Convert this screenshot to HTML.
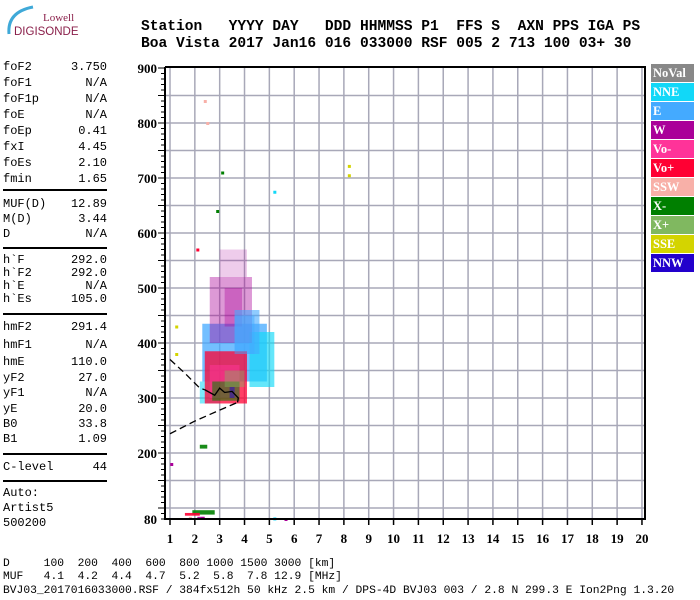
<!DOCTYPE html>
<html><head><meta charset="utf-8">
<style>
body{margin:0;background:#fff;width:700px;height:600px;overflow:hidden;position:relative;font-family:"Liberation Mono",monospace}
.hdr{position:absolute;left:141px;font:bold 14.6px "Liberation Mono",monospace;white-space:pre;color:#000}
.row{position:absolute;left:3px;width:104px;font:12px "Liberation Mono",monospace;height:12px;line-height:12px}
.row span{position:absolute;right:0}
.hr{position:absolute;left:3px;width:104px;border-top:2px solid #000}
.bot{position:absolute;left:3px;font:11.3px "Liberation Mono",monospace;white-space:pre}
.leg{position:absolute;left:651px;width:43px;height:18px;font:bold 12.5px "Liberation Serif",serif;color:#fff;line-height:18px;padding-left:2px;box-sizing:border-box}
</style></head><body>
<div style="position:absolute;left:3px;top:4px;width:80px;height:34px">
<svg width="80" height="34"><path d="M6 30 Q4 8 30 3" stroke="#3fa9d8" stroke-width="3" fill="none"/>
<text x="40" y="17" font-family="Liberation Serif" font-size="11" fill="#8a1f4a">Lowell</text>
<text x="11" y="31" font-family="Liberation Sans" font-size="11.5" fill="#8a1f4a">DIGISONDE</text></svg></div>
<div class="hdr" style="top:19px">Station   YYYY DAY   DDD HHMMSS P1  FFS S  AXN PPS IGA PS</div>
<div class="hdr" style="top:36px">Boa Vista 2017 Jan16 016 033000 RSF 005 2 713 100 03+ 30</div>
<div id="panel"></div>
<div class="bot" style="top:558px">D     100  200  400  600  800 1000 1500 3000 [km]</div>
<div class="bot" style="top:571px">MUF   4.1  4.2  4.4  4.7  5.2  5.8  7.8 12.9 [MHz]</div>
<div class="bot" style="top:585px">BVJ03_2017016033000.RSF / 384fx512h 50 kHz 2.5 km / DPS-4D BVJ03 003 / 2.8 N 299.3 E Ion2Png 1.3.20</div>
<div id="legend"></div>
<svg id="chart" width="700" height="600" style="position:absolute;left:0;top:0"></svg>
<script>
const rows=[["foF2","3.750",67],["foF1","N/A",83],["foF1p","N/A",99],["foE","N/A",115],["foEp","0.41",131],["fxI","4.45",147],["foEs","2.10",163],["fmin","1.65",179],
["MUF(D)","12.89",204],["M(D)","3.44",219],["D","N/A",234],["h`F","292.0",260],["h`F2","292.0",273],["h`E","N/A",286],["h`Es","105.0",299],
["hmF2","291.4",327],["hmF1","N/A",345],["hmE","110.0",362],["yF2","27.0",378],["yF1","N/A",393],["yE","20.0",409],["B0","33.8",424],["B1","1.09",439],["C-level","44",467],
["Auto:","",493],["Artist5","",508],["500200","",523]];
const hrs=[189,247,313,453,480];
const P=document.getElementById('panel');
rows.forEach(r=>{const d=document.createElement('div');d.className='row';d.style.top=(r[2]-6)+'px';


d.innerHTML=r[0]+'<span>'+r[1]+'</span>';P.appendChild(d);});
hrs.forEach(y=>{const d=document.createElement('div');d.className='hr';d.style.top=y+'px';


P.appendChild(d);});

const legNames=["NoVal","NNE","E","W","Vo-","Vo+","SSW","X-","X+","SSE","NNW"];
const legColors=["#888888","#11d8f8","#44aaff","#aa0099","#ff3399","#ff0033","#f8b0a8","#007f00","#80b860","#d4d400","#2200cc"];
const L=document.getElementById('legend');
legNames.forEach((n,i)=>{const d=document.createElement('div');d.className='leg';d.style.top=(64+i*19)+'px';d.style.background=legColors[i];d.textContent=n;


L.appendChild(d);});

const xTicks=[1,2,3,4,5,6,7,8,9,10,11,12,13,14,15,16,17,18,19,20];
const yTicks=[80,200,300,400,500,600,700,800,900];
// echo regions: category index, f0, f1, h0, h1, opacity
const blobCat=[3,2,1,1,3,3,2,5,4,7,2,8,7,5,7,3,10];
const blobF0=[3.0,2.3,4.2,2.2,2.6,3.2,3.6,2.4,2.6,2.7,3.6,3.2,1.9,1.6,2.2,2.1,3.4];
const blobF1=[4.1,4.9,5.2,3.0,4.3,3.9,4.6,4.1,3.8,3.8,4.4,4.0,2.8,2.2,2.5,2.4,3.6];
const blobH0=[520,330,320,290,400,430,380,290,300,295,380,320,88,86,208,80,300];
const blobH1=[570,435,420,330,520,500,460,385,360,330,450,350,96,91,215,84,320];
const blobOp=[0.2,0.75,0.65,0.55,0.4,0.35,0.6,0.75,0.5,0.55,0.5,0.4,0.9,0.9,0.9,0.9,0.5];
// isolated echoes
const ptF=[1.25,1.25,1.05,5.2,8.2,8.2,1.8,2.3,5.65,2.9,3.1,2.1,5.2,2.4,2.5];
const ptH=[430,380,180,675,722,705,82,82,80,640,710,570,81,840,800];
const ptCat=[9,9,3,1,9,9,6,3,3,7,7,5,1,6,6];
// traces
const trace1F=[1.0,1.6,2.2,2.4];
const trace1H=[370,345,318,315];
const trace2F=[1.0,2.0,3.0,3.72];
const trace2H=[235,258,278,292];
const trace3F=[2.4,2.8,3.0,3.2,3.5,3.75,3.72];
const trace3H=[315,305,318,310,312,300,292];

const X0=170,XS=24.84,YB=453,YS=0.55;
const xs=f=>X0+(f-1)*XS, ys=h=>YB-(h-200)*YS;
const S=document.getElementById('chart');const NS='http://www.w3.org/2000/svg';
function mk(t,a,p){const e=document.createElementNS(NS,t);for(const k in a)e.setAttribute(k,a[k]);(p||S).appendChild(e);return e;}
const grid=mk('g',{});
for(let f=1;f<=20;f++)mk('line',{x1:xs(f),x2:xs(f),y1:ys(900),y2:ys(80),stroke:'#a8a8b8','stroke-width':1.5},grid);
for(let h=100;h<=850;h+=50)mk('line',{x1:165,x2:645,y1:ys(h),y2:ys(h),stroke:'#a8a8b8','stroke-width':1.5},grid);
blobCat.forEach((c,i)=>{const r=mk('rect',{x:xs(blobF0[i]),y:ys(blobH1[i]),width:(blobF1[i]-blobF0[i])*XS,height:(blobH1[i]-blobH0[i])*YS,fill:legColors[c],opacity:blobOp[i]});

});
ptF.forEach((f,i)=>{const r=mk('rect',{x:xs(f)-1,y:ys(ptH[i])-1,width:3,height:3,fill:legColors[ptCat[i]]});

});
function poly(F,H,dash,name){const p=mk('polyline',{points:F.map((f,i)=>xs(f)+','+ys(H[i])).join(' '),fill:'none',stroke:'#000','stroke-width':1.3,'stroke-dasharray':dash});

}
poly(trace1F,trace1H,'7,4','trace-dashed-upper');poly(trace2F,trace2H,'7,4','trace-dashed-lower');poly(trace3F,trace3H,'none','trace-solid');
mk('line',{x1:165,x2:646,y1:ys(900)-1,y2:ys(900)-1,stroke:'#000','stroke-width':2});
mk('line',{x1:645,x2:645,y1:ys(900)-1,y2:ys(80),stroke:'#000','stroke-width':2});
mk('line',{x1:165,x2:165,y1:ys(900)-1,y2:ys(80)+1,stroke:'#000','stroke-width':2});
mk('line',{x1:165,x2:646,y1:ys(80),y2:ys(80),stroke:'#000','stroke-width':2});
for(let h=80;h<=900;h+=10)mk('line',{x1:h%50==0?158:161,x2:165,y1:ys(h),y2:ys(h),stroke:'#000','stroke-width':1});
xTicks.forEach(f=>{mk('line',{x1:xs(f),x2:xs(f),y1:ys(80),y2:ys(80)+6,stroke:'#000','stroke-width':1.5});
const t=mk('text',{x:xs(f),y:543,'text-anchor':'middle','font-family':'Liberation Serif','font-weight':'bold','font-size':13});t.textContent=f;

});
yTicks.forEach(h=>{const t=mk('text',{x:157,y:ys(h)+5,'text-anchor':'end','font-family':'Liberation Serif','font-weight':'bold','font-size':13});t.textContent=h;

});
</script>
</body></html>
